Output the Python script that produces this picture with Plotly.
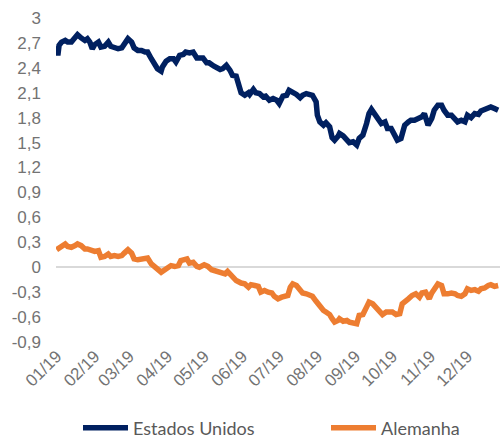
import pandas as pd
import plotly.graph_objects as go

# ── Data ──────────────────────────────────────────────────────────────────────
# x = days since 2019-01-01, y = 10y yield (%)
us_days = [
    0, 1, 2, 4, 7, 9, 12, 15, 17, 20,
    23, 25, 27, 29, 31, 34, 36, 39, 42, 44,
    47, 50, 53, 55, 58, 61, 63, 66, 69, 72,
    74, 77, 80, 82, 85, 86, 89, 92, 95, 97,
    100, 103, 105, 108, 111, 114, 116, 119, 122, 124,
    128, 133, 135, 138, 141, 143, 146, 148, 150, 153,
    156, 157, 160, 162, 165, 168, 170, 173, 176, 179,
    181, 184, 187, 189, 192, 195, 198, 200, 203, 206,
    208, 211, 212, 214, 217, 219, 222, 224, 226, 229,
    230, 233, 236, 238, 241, 244, 246, 249, 252, 254,
    256, 259, 261, 264, 267, 269, 272, 275, 277, 280,
    283, 286, 288, 291, 294, 297, 299, 302, 305, 307,
    310, 313, 315, 318, 321, 324, 326, 329, 332, 334,
    337, 340, 343, 345, 348, 351, 353, 356, 359,
]
us_yield = [
    2.66, 2.55, 2.67, 2.71, 2.73, 2.71, 2.71, 2.76, 2.80, 2.76,
    2.73, 2.75, 2.71, 2.63, 2.68, 2.71, 2.65, 2.66, 2.71, 2.66,
    2.65, 2.63, 2.64, 2.68, 2.75, 2.71, 2.64, 2.61, 2.61, 2.59,
    2.59, 2.51, 2.43, 2.39, 2.36, 2.41, 2.48, 2.51, 2.51, 2.47,
    2.55, 2.56, 2.59, 2.58, 2.59, 2.52, 2.52, 2.52, 2.46, 2.46,
    2.42, 2.38, 2.39, 2.43, 2.37, 2.31, 2.30, 2.21, 2.10, 2.07,
    2.10, 2.08, 2.14, 2.10, 2.09, 2.05, 2.06, 2.01, 2.03, 2.01,
    1.97, 2.06, 2.07, 2.13, 2.11, 2.08, 2.04, 2.07, 2.09, 2.07,
    2.07, 1.99, 1.83, 1.75, 1.71, 1.74, 1.69, 1.56, 1.53, 1.58,
    1.61, 1.58, 1.53, 1.50, 1.51, 1.47, 1.55, 1.59, 1.73, 1.85,
    1.90, 1.84, 1.78, 1.73, 1.75, 1.67, 1.67, 1.57, 1.53, 1.55,
    1.71, 1.75, 1.77, 1.77, 1.79, 1.81, 1.85, 1.71, 1.79, 1.89,
    1.95, 1.95, 1.89, 1.83, 1.83, 1.77, 1.75, 1.77, 1.75, 1.83,
    1.80, 1.85, 1.84, 1.88, 1.90, 1.93, 1.93, 1.91, 1.89,
]

de_days = [
    0, 1, 4, 7, 9, 12, 15, 17, 20, 23,
    25, 28, 31, 34, 36, 39, 42, 44, 47, 50,
    53, 55, 58, 61, 63, 66, 69, 72, 74, 77,
    80, 82, 85, 88, 90, 93, 96, 99, 101, 104,
    106, 108, 111, 114, 116, 120, 123, 126, 130, 134,
    137, 139, 142, 146, 150, 153, 156, 158, 161, 164,
    166, 169, 172, 175, 177, 180, 183, 185, 188, 190,
    192, 195, 198, 200, 203, 206, 208, 211, 214, 217,
    219, 222, 224, 226, 229, 230, 233, 236, 238, 241,
    244, 246, 249, 252, 254, 257, 260, 263, 265, 268,
    271, 273, 276, 279, 281, 284, 286, 289, 292, 295,
    297, 300, 303, 305, 308, 310, 313, 315, 318, 321,
    324, 326, 329, 332, 334, 337, 340, 343, 345, 348,
    351, 353, 356, 359,
]
de_yield = [
    0.21, 0.22, 0.25, 0.28, 0.25, 0.24, 0.26, 0.28, 0.26, 0.22,
    0.22, 0.20, 0.19, 0.20, 0.12, 0.13, 0.16, 0.13, 0.14, 0.13,
    0.14, 0.17, 0.21, 0.17, 0.10, 0.09, 0.10, 0.11, 0.11, 0.04,
    0.00, -0.04, -0.06, -0.03, -0.01, 0.02, 0.01, 0.02, 0.08, 0.09,
    0.10, 0.05, 0.06, 0.01, 0.00, 0.03, 0.01, -0.03, -0.05, -0.08,
    -0.08, -0.05, -0.09, -0.16, -0.19, -0.20, -0.24, -0.21, -0.22, -0.23,
    -0.30, -0.28, -0.30, -0.31, -0.35, -0.38, -0.36, -0.35, -0.34, -0.24,
    -0.20, -0.22, -0.28, -0.31, -0.32, -0.34, -0.35, -0.41, -0.48, -0.52,
    -0.54, -0.57, -0.62, -0.66, -0.64, -0.62, -0.65, -0.64, -0.66, -0.67,
    -0.68, -0.58, -0.57, -0.48, -0.42, -0.44, -0.49, -0.54, -0.57, -0.54,
    -0.55, -0.54, -0.57, -0.56, -0.44, -0.39, -0.38, -0.34, -0.32, -0.36,
    -0.31, -0.30, -0.38, -0.31, -0.24, -0.20, -0.22, -0.32, -0.32, -0.31,
    -0.32, -0.34, -0.35, -0.32, -0.26, -0.28, -0.27, -0.29, -0.26, -0.25,
    -0.22, -0.21, -0.23, -0.22,
]

month_ticks = ["01/19", "02/19", "03/19", "04/19", "05/19", "06/19",
               "07/19", "08/19", "09/19", "10/19", "11/19", "12/19"]
y_ticks = [-0.9, -0.6, -0.3, 0, 0.3, 0.6, 0.9, 1.2, 1.5, 1.8, 2.1, 2.4, 2.7, 3]

NAVY = "#002060"
ORANGE = "#ED7D31"
GREY = "#737373"
TICK_FONT = dict(family="Liberation Sans", size=17, color=GREY)
LEGEND_FONT = dict(family="Lato", size=18, color="#595959")

start = pd.Timestamp("2019-01-01")
to_date = lambda d: start + pd.to_timedelta(d, unit="D")

fig = go.Figure()
fig.add_trace(go.Scatter(
    x=to_date(us_days), y=us_yield, mode="lines", name="Estados Unidos",
    line=dict(color=NAVY, width=5.5), legend="legend",
))
fig.add_trace(go.Scatter(
    x=to_date(de_days), y=de_yield, mode="lines", name="Alemanha",
    line=dict(color=ORANGE, width=5.5), legend="legend2",
))

# one legend per series so each entry sits where the reference puts it
_legend = dict(
    orientation="h", xref="container", yref="container",
    y=0.025, xanchor="left", yanchor="middle",
    itemwidth=45, font=LEGEND_FONT, bgcolor="rgba(0,0,0,0)",
)
fig.update_layout(
    width=500, height=439,
    margin=dict(l=56, r=0, t=18, b=97),
    paper_bgcolor="white", plot_bgcolor="white",
    showlegend=True,
    legend=dict(x=0.156, **_legend),
    legend2=dict(x=0.652, **_legend),
)
fig.update_xaxes(
    range=[to_date(-0.5), to_date(360.5)],
    tickvals=[pd.Timestamp(2019, m, 1) for m in range(1, 13)],
    ticktext=month_ticks,
    tickangle=-45,
    tickfont=TICK_FONT,
    showgrid=False, showline=False, zeroline=False, ticks="",
    automargin=False,
)
fig.update_yaxes(
    range=[-0.9, 3],
    tickvals=y_ticks,
    ticktext=[f"{v:g}".replace(".", ",") for v in y_ticks],
    tickfont=TICK_FONT,
    ticklabelstandoff=14,
    showgrid=False, showline=False,
    zeroline=True, zerolinecolor="#d9d9d9", zerolinewidth=1.5,
    automargin=False,
)

# drop the browser's default 8px body margin so the figure sits at the page origin
fig.write_html(
    "out.html",
    config={"displayModeBar": False},
    post_script="document.body.style.margin='0';",
)
